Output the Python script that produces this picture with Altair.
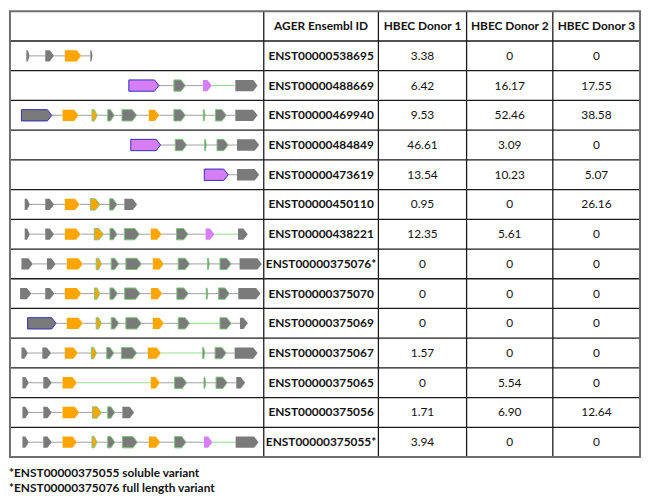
import altair as alt
import pandas as pd

# ---------------- data ----------------
ids = ["ENST00000538695", "ENST00000488669", "ENST00000469940", "ENST00000484849",
       "ENST00000473619", "ENST00000450110", "ENST00000438221", "ENST00000375076*",
       "ENST00000375070", "ENST00000375069", "ENST00000375067", "ENST00000375065",
       "ENST00000375056", "ENST00000375055*"]
donor1 = ["3.38", "6.42", "9.53", "46.61", "13.54", "0.95", "12.35", "0", "0", "0",
          "1.57", "0", "1.71", "3.94"]
donor2 = ["0", "16.17", "52.46", "3.09", "10.23", "0", "5.61", "0", "0", "0",
          "0", "5.54", "6.90", "0"]
donor3 = ["0", "17.55", "38.58", "0", "5.07", "26.16", "0", "0", "0", "0",
          "0", "0", "12.64", "0"]
headers = ["AGER Ensembl ID", "HBEC Donor 1", "HBEC Donor 2", "HBEC Donor 3"]
footnotes = ["*ENST00000375055 soluble variant", "*ENST00000375076 full length variant"]

# exon structure per transcript: (start, end, kind, outline) in diagram units
G, O, P = "gray", "orange", "purple"
exons = [
    [(20.7, 24, G, ""), (40, 49, G, ""), (60, 76.7, O, ""), (86, 88.3, G, "")],
    [(125.3, 156, P, "b"), (171.3, 183, G, "g"), (201, 210, P, ""), (234, 256.7, G, "")],
    [(15.7, 46.7, G, "b"), (57.7, 74, O, ""), (87.7, 93, O, "g"), (103.7, 110.3, G, "g"),
     (118.3, 133.3, G, "g"), (145.7, 156.3, O, ""), (171.3, 183, G, "g"), (201.3, 203, G, "g"),
     (213.7, 224.7, G, "g"), (234, 256.7, G, "")],
    [(127.3, 157.7, P, "b"), (172.7, 184.3, G, "g"), (202.7, 204.3, G, "g"),
     (215.3, 226.7, G, "g"), (235.7, 258.3, G, "")],
    [(202.3, 226.7, P, "b"), (235.7, 258.3, G, "")],
    [(19, 24.3, G, ""), (40, 49, G, ""), (60, 75, O, ""), (86, 95.7, O, "g"),
     (105.7, 113.3, G, "g"), (120.7, 133.7, G, "")],
    [(19, 24.3, G, ""), (40, 49, G, ""), (60, 76, O, ""), (90, 99.3, O, "g"),
     (106, 113.3, G, "g"), (120.7, 136, G, "g"), (147.7, 158.7, O, ""), (174, 185.7, G, "g"),
     (203.7, 212.7, P, ""), (236.7, 246.7, G, "")],
    [(15.7, 27.3, G, ""), (41.7, 50.7, G, ""), (62, 78.3, O, ""), (92, 97.3, O, "g"),
     (107.3, 115, G, "g"), (122.3, 138, G, "g"), (149.7, 161, O, ""), (175.7, 187.3, G, "g"),
     (205.7, 207.3, G, "g"), (218.3, 229.7, G, "g"), (238.3, 261, G, "")],
    [(14.3, 25.7, G, ""), (40, 49.3, G, ""), (60, 76.7, O, ""), (90.3, 95.7, O, "g"),
     (106, 113.7, G, "g"), (121, 136.7, G, "g"), (148, 159.3, O, ""), (174.3, 186, G, "g"),
     (204.3, 206, G, "g"), (217, 228, G, "g"), (237, 259.7, G, "")],
    [(22, 51, G, "b"), (62, 78.3, O, ""), (92, 97.3, O, "g"), (107.3, 115, G, "g"),
     (122.3, 138, G, "g"), (149.7, 161, O, ""), (175.7, 187.3, G, "g"), (218.3, 229.7, G, "g"),
     (238.7, 246.7, G, "")],
    [(15.7, 22.3, G, ""), (37, 46, G, ""), (60, 73.3, O, ""), (87, 92.3, O, "g"),
     (102.7, 110, G, "g"), (117.7, 133.3, G, "g"), (144.7, 158, O, ""), (200.7, 202.7, G, "g"),
     (213.3, 224.7, G, "g"), (233.3, 256.7, G, "")],
    [(16.7, 23.3, G, ""), (38, 46.7, G, ""), (57.7, 72.3, O, ""), (147.7, 157, O, ""),
     (172, 184.3, G, "g"), (202, 203.7, G, "g"), (214.3, 225.7, G, "g"), (235, 244, G, "")],
    [(16.7, 23.3, G, ""), (38, 46.7, G, ""), (57.7, 74.7, O, ""), (88.3, 97.3, O, "g"),
     (103.7, 111, G, "g"), (118.7, 130.7, G, "")],
    [(16.7, 23.3, G, ""), (38, 46.7, G, ""), (57.7, 72.3, O, ""), (87.7, 92.7, O, "g"),
     (103.7, 111, G, "g"), (118.7, 134, G, "g"), (145.7, 157.3, O, ""), (172, 183.7, G, "g"),
     (202, 210.7, P, ""), (234.3, 257.7, G, "")],
]
# index of introns drawn in green, per transcript
green_introns = [[], [2], [], [], [], [], [8], [], [], [6], [6], [2], [], [8]]

# ---------------- styles / layout ----------------
FILL = {G: "#7a7a7a", O: "#ffa500", P: "#d67ff4"}
EDGE = {"": "transparent", "b": "#2f2fbf", "g": "#7cc47c"}
INTRON = {False: "#a8a8a8", True: "#94e094"}
FONT = "Lato"
col_edges = [4, 263, 380, 470, 558, 647]
col_centers = [(col_edges[i] + col_edges[i + 1]) / 2 for i in range(1, 5)]
half_h = 0.19
W, H = 638, 484
ROWPX = 30.0
ymax = H / ROWPX

xs = alt.Scale(domain=[3, 648], nice=False, zero=False)
ys = alt.Scale(domain=[0, ymax], nice=False, zero=False, reverse=True)

# ---------------- build tables ----------------
area_rows, intron_rows = [], []
for r, row in enumerate(exons):
    yc = r + 1.5
    for k, (s, e, kind, edge) in enumerate(row):
        w = e - s
        tip = min(4.5, 0.55 * w)
        eid = f"{r}_{k}"
        for (x, a, b) in [(s, yc - half_h, yc + half_h),
                          (e - tip, yc - half_h, yc + half_h),
                          (e, yc, yc)]:
            area_rows.append(dict(eid=eid, x=x, y=a, y2=b,
                                  fill=FILL[kind], stroke=EDGE[edge]))
        if k > 0:
            intron_rows.append(dict(x=row[k - 1][1], x2=s, y=yc,
                                    color=INTRON[(k - 1) in green_introns[r]]))
area_df = pd.DataFrame(area_rows)
intron_df = pd.DataFrame(intron_rows)

bold_text, plain_text = [], []
for i, h in enumerate(headers):
    bold_text.append(dict(x=col_centers[i], y=0.5, t=h))
for r in range(len(ids)):
    bold_text.append(dict(x=col_centers[0], y=r + 1.5, t=ids[r]))
    for c, vals in enumerate([donor1, donor2, donor3]):
        plain_text.append(dict(x=col_centers[c + 1], y=r + 1.5, t=vals[r]))
bold_df = pd.DataFrame(bold_text)
plain_df = pd.DataFrame(plain_text)
foot_df = pd.DataFrame(dict(x=[3, 3], y=[15.55, 16.03], t=footnotes))

nrows = len(ids) + 1
hlines = pd.DataFrame(dict(y=list(range(1, nrows)), x=col_edges[0], x2=col_edges[-1]))
vlines = pd.DataFrame(dict(x=col_edges[1:-1], y=0, y2=nrows))
frame = pd.DataFrame(dict(x=[col_edges[0]], x2=[col_edges[-1]], y=[0], y2=[nrows]))

# ---------------- layers ----------------
introns = alt.Chart(intron_df).mark_rule(strokeWidth=1.1).encode(
    x=alt.X("x:Q", scale=xs, axis=None), x2="x2:Q",
    y=alt.Y("y:Q", scale=ys, axis=None),
    color=alt.Color("color:N", scale=None))

exon_marks = alt.Chart(area_df).mark_area(interpolate="linear", orient="vertical",
                                          strokeWidth=1.0).encode(
    x=alt.X("x:Q", scale=xs, axis=None),
    y=alt.Y("y:Q", scale=ys, axis=None), y2="y2:Q",
    detail="eid:N",
    fill=alt.Fill("fill:N", scale=None),
    stroke=alt.Stroke("stroke:N", scale=None))

h_rules = alt.Chart(hlines).mark_rule(color="#1a1a1a", strokeWidth=1.3).encode(
    x=alt.X("x:Q", scale=xs, axis=None), x2="x2:Q",
    y=alt.Y("y:Q", scale=ys, axis=None))
v_rules = alt.Chart(vlines).mark_rule(color="#1a1a1a", strokeWidth=1.3).encode(
    x=alt.X("x:Q", scale=xs, axis=None),
    y=alt.Y("y:Q", scale=ys, axis=None), y2="y2:Q")
border = alt.Chart(frame).mark_rect(fill=None, stroke="#6e6e6e", strokeWidth=2).encode(
    x=alt.X("x:Q", scale=xs, axis=None), x2="x2:Q",
    y=alt.Y("y:Q", scale=ys, axis=None), y2="y2:Q")

bold_layer = alt.Chart(bold_df).mark_text(font=FONT, fontSize=12, fontWeight="bold",
                                          color="#111", baseline="middle").encode(
    x=alt.X("x:Q", scale=xs, axis=None), y=alt.Y("y:Q", scale=ys, axis=None), text="t:N")
plain_layer = alt.Chart(plain_df).mark_text(font=FONT, fontSize=12, color="#111",
                                            baseline="middle").encode(
    x=alt.X("x:Q", scale=xs, axis=None), y=alt.Y("y:Q", scale=ys, axis=None), text="t:N")
foot_layer = alt.Chart(foot_df).mark_text(font=FONT, fontSize=12, fontWeight="bold",
                                          color="#111", align="left", baseline="middle").encode(
    x=alt.X("x:Q", scale=xs, axis=None), y=alt.Y("y:Q", scale=ys, axis=None), text="t:N")

chart = alt.layer(introns, exon_marks, h_rules, v_rules, border,
                  bold_layer, plain_layer, foot_layer).properties(
    width=W, height=H, padding=0, background="white"
).configure_view(stroke=None)

chart.save("out.html", embed_options={"renderer": "svg", "actions": False})
